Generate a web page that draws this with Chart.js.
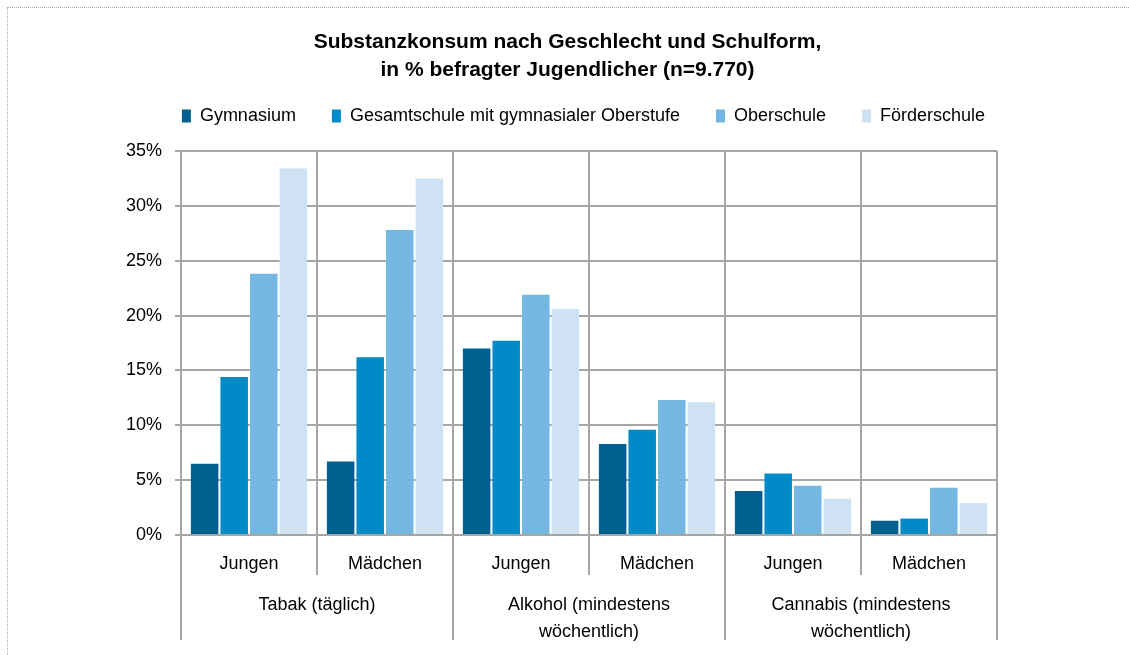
<!DOCTYPE html>
<html lang="de">
<head>
    <meta charset="UTF-8">
    <title>Substanzkonsum nach Geschlecht und Schulform</title>
    <script src="https://cdn.jsdelivr.net/npm/chart.js"></script>
    <style>
        body { margin: 0; background: #fff; }
        .wrap { position: relative; width: 1129px; height: 655px; overflow: hidden; }
        .frame { position: absolute; left: 7px; top: 7px; width: 1200px; height: 700px; border: 1px dotted #aaa; }
        canvas { position: absolute; left: 0; top: 0; }
    </style>
</head>
<body>
    <div class="wrap">
        <div class="frame"></div>
        <canvas id="substanzChart" width="1129" height="655"></canvas>
    </div>
    <script>
        // Werte in % der befragten Jugendlichen
        const subGroups = ['Jungen', 'Mädchen', 'Jungen', 'Mädchen', 'Jungen', 'Mädchen'];
        const substances = [['Tabak (täglich)', ''], ['Alkohol (mindestens', 'wöchentlich)'], ['Cannabis (mindestens', 'wöchentlich)']];
        const schoolTypes = ['Gymnasium', 'Gesamtschule mit gymnasialer Oberstufe', 'Oberschule', 'Förderschule'];
        const gymnasium = [6.5, 6.7, 17.0, 8.3, 4.0, 1.3];
        const gesamtschule = [14.4, 16.2, 17.7, 9.6, 5.6, 1.5];
        const oberschule = [23.8, 27.8, 21.9, 12.3, 4.5, 4.3];
        const foerderschule = [33.4, 32.5, 20.6, 12.1, 3.3, 2.9];
        const colors = ['#00608f', '#008bc8', '#74b7e0', '#cfe2f3'];

        const gridColor = '#a6a6a6';
        const font = 'Liberation Sans, Arial, sans-serif';

        // Titel und Legende etwas nach rechts schieben (wie im Original)
        const shiftHeader = {
            id: 'shiftHeader',
            afterLayout(chart) {
                if (chart.titleBlock) { chart.titleBlock.left += 10; chart.titleBlock.right += 10; }
                if (chart.legend) { chart.legend.left += 26; chart.legend.right += 26; }
            }
        };

        const ctx = document.getElementById('substanzChart').getContext('2d');
        const chart = new Chart(ctx, {
            type: 'bar',
            data: {
                labels: subGroups,
                datasets: [gymnasium, gesamtschule, oberschule, foerderschule].map((values, i) => ({
                    label: schoolTypes[i],
                    data: values,
                    backgroundColor: colors[i],
                    categoryPercentage: 0.87,
                    barPercentage: 0.93
                }))
            },
            plugins: [shiftHeader],
            options: {
                responsive: false,
                animation: false,
                layout: { padding: { left: 118, right: 132, top: 0, bottom: 8 } },
                plugins: {
                    title: {
                        display: true,
                        text: ['Substanzkonsum nach Geschlecht und Schulform,', 'in % befragter Jugendlicher (n=9.770)'],
                        color: '#000',
                        font: { family: font, size: 21, weight: 'bold', lineHeight: 1.333 },
                        padding: { top: 28, bottom: -13 }
                    },
                    // leerer Abstandhalter zwischen Legende und Diagramm
                    subtitle: {
                        display: true,
                        text: '',
                        weight: 500,
                        font: { size: 1, lineHeight: 1 },
                        padding: { top: 15, bottom: 0 }
                    },
                    legend: {
                        position: 'top',
                        maxHeight: 79,
                        labels: {
                            color: '#000',
                            font: { family: font, size: 18 },
                            boxWidth: 9,
                            boxHeight: 13,
                            padding: 36
                        }
                    },
                    tooltip: { enabled: false }
                },
                scales: {
                    x: {
                        offset: true,
                        grid: { color: gridColor, lineWidth: 2, offset: true, tickLength: 40 },
                        border: { color: gridColor, width: 2 },
                        ticks: { color: '#000', font: { family: font, size: 18 }, padding: -22, maxRotation: 0 },
                        afterFit: scale => { scale.height = 40; }
                    },
                    x2: {
                        type: 'category',
                        labels: substances,
                        position: 'bottom',
                        offset: true,
                        grid: { color: gridColor, lineWidth: 2, offset: true, drawOnChartArea: false, tickLength: 65 },
                        border: { display: false },
                        ticks: { color: '#000', font: { family: font, size: 18, lineHeight: 1.5 }, padding: -48, maxRotation: 0 },
                        afterFit: scale => { scale.height = 72; }
                    },
                    y: {
                        min: 0,
                        max: 35,
                        grid: { color: gridColor, lineWidth: 2, tickLength: 6 },
                        border: { color: gridColor, width: 2 },
                        ticks: {
                            stepSize: 5,
                            color: '#000',
                            padding: 13,
                            font: { family: font, size: 18 },
                            callback: v => v + '%'
                        },
                        afterFit: scale => { scale.width = 63; }
                    }
                }
            }
        });
    </script>
</body>
</html>
